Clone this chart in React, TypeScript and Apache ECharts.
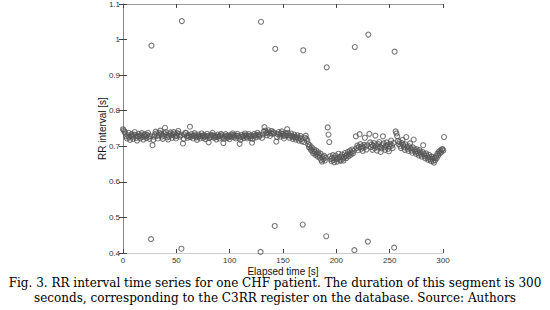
import React, { useEffect, useRef } from "react";
import * as echarts from "echarts";

// RR intervals (s), in beat order; elapsed time is the running sum of the intervals.
const segA = [0.748, 0.745, 0.741, 0.736, 0.728, 0.722, 0.731, 0.738, 0.725, 0.718, 0.729, 0.734, 0.727, 0.721, 0.733, 0.740, 0.731, 0.724, 0.716, 0.728, 0.735, 0.729, 0.722, 0.731, 0.737, 0.726, 0.719, 0.730, 0.734, 0.728, 0.723, 0.732, 0.738, 0.727, 0.721, 0.729];
const ect1 = [0.439, 0.983];
const segB = [0.703, 0.718, 0.727, 0.733, 0.741, 0.736, 0.729, 0.722, 0.731, 0.738, 0.744, 0.735, 0.727, 0.721, 0.730, 0.736, 0.752, 0.740, 0.732, 0.725, 0.719, 0.728, 0.734, 0.739, 0.731, 0.724, 0.733, 0.740, 0.736, 0.728, 0.722, 0.730, 0.737, 0.743, 0.734, 0.727, 0.731];
const ect2 = [0.412, 1.052];
const segC = [0.708, 0.721, 0.733, 0.738, 0.738, 0.729, 0.724, 0.731, 0.727, 0.755,
  0.726, 0.734, 0.729, 0.722, 0.730, 0.737, 0.731, 0.725, 0.718, 0.727,
  0.733, 0.728, 0.722, 0.729, 0.736, 0.730, 0.724, 0.731, 0.727, 0.720,
  0.728, 0.735, 0.729, 0.711, 0.723, 0.730, 0.726, 0.732, 0.738, 0.729,
  0.724, 0.730, 0.726, 0.719, 0.727, 0.733, 0.728, 0.722, 0.729, 0.735,
  0.731, 0.725, 0.709, 0.721, 0.728, 0.734, 0.729, 0.723, 0.730, 0.726,
  0.720, 0.727, 0.733, 0.728, 0.736, 0.731, 0.725, 0.729, 0.722, 0.730,
  0.735, 0.729, 0.724, 0.707, 0.718, 0.726, 0.732, 0.728, 0.723, 0.730,
  0.736, 0.731, 0.726, 0.722, 0.729, 0.734, 0.728, 0.723, 0.730, 0.710,
  0.721, 0.729, 0.735, 0.730, 0.725, 0.732, 0.738, 0.733, 0.727, 0.731];
const ect3 = [0.403, 1.050];
const segD = [0.724, 0.733, 0.741, 0.754, 0.744, 0.737, 0.731, 0.739, 0.745, 0.736, 0.729, 0.738, 0.743, 0.735, 0.740, 0.737];
const ect4 = [0.476, 0.974];
const segE = [0.713, 0.726, 0.734, 0.740, 0.733, 0.727, 0.736, 0.742, 0.735, 0.729,
  0.722, 0.731, 0.737, 0.730, 0.748, 0.738, 0.731, 0.724, 0.730, 0.736,
  0.728, 0.721, 0.727, 0.733, 0.725, 0.719, 0.726, 0.731, 0.722, 0.716,
  0.724, 0.729, 0.720, 0.714];
const ect5 = [0.480, 0.970];
const segF = [0.712, 0.724, 0.730, 0.721, 0.715, 0.706, 0.698, 0.703, 0.694, 0.689,
  0.697, 0.686, 0.680, 0.691, 0.684, 0.676, 0.688, 0.679, 0.671, 0.683,
  0.675, 0.668, 0.679, 0.662, 0.657, 0.670, 0.664, 0.673, 0.660, 0.668];
const ect6 = [0.447, 0.922, 0.753, 0.733, 0.712];
const segG = [0.672, 0.664, 0.658, 0.667, 0.675, 0.661, 0.655, 0.668, 0.674, 0.663,
  0.657, 0.666, 0.679, 0.670, 0.662, 0.659, 0.671, 0.677, 0.665, 0.660,
  0.669, 0.681, 0.673, 0.667, 0.676, 0.684, 0.672, 0.679, 0.688, 0.676,
  0.683, 0.691, 0.680, 0.687];
const ect7 = [0.408, 0.979];
const segH = [0.728, 0.695, 0.702, 0.689, 0.698, 0.734, 0.706, 0.693, 0.700, 0.687, 0.696, 0.704, 0.724, 0.699, 0.691, 0.703];
const ect8 = [0.432, 1.014];
const segI = [0.735, 0.711, 0.698, 0.705, 0.690, 0.701, 0.709, 0.695, 0.730, 0.703,
  0.688, 0.697, 0.706, 0.712, 0.699, 0.684, 0.694, 0.703, 0.728, 0.708,
  0.697, 0.690, 0.701, 0.711, 0.704, 0.693, 0.686, 0.699, 0.707, 0.716,
  0.702, 0.695, 0.709];
const ect9 = [0.415, 0.966];
const segJ = [0.742, 0.736, 0.728, 0.715, 0.706, 0.712, 0.701, 0.695, 0.709, 0.718,
  0.703, 0.697, 0.690, 0.705, 0.726, 0.699, 0.693, 0.687, 0.700, 0.708,
  0.694, 0.688, 0.682, 0.697, 0.719, 0.691, 0.685, 0.679, 0.692, 0.686,
  0.680, 0.674, 0.689, 0.683, 0.677, 0.671, 0.684, 0.703, 0.678, 0.672,
  0.666, 0.680, 0.674, 0.668, 0.662, 0.676, 0.669, 0.663, 0.658, 0.671,
  0.665, 0.659, 0.654, 0.668, 0.661, 0.672, 0.667, 0.679, 0.674, 0.685,
  0.680, 0.688, 0.683, 0.691, 0.692, 0.688, 0.726];

const rrSeries = [
  ...segA, ...ect1, ...segB, ...ect2, ...segC, ...ect3, ...segD, ...ect4,
  ...segE, ...ect5, ...segF, ...ect6, ...segG, ...ect7, ...segH, ...ect8,
  ...segI, ...ect9, ...segJ,
];

const xTicks = [0, 50, 100, 150, 200, 250, 300];
const yTicks = [0.4, 0.5, 0.6, 0.7, 0.8, 0.9, 1, 1.1];
const captionLines = [
  "Fig. 3. RR interval time series for one CHF patient. The duration of this segment is 300",
  "seconds, corresponding to the C3RR register on the database. Source: Authors",
];

export default function App() {
  const ref = useRef<HTMLDivElement>(null);
  useEffect(() => {
    if (!ref.current) return;
    const chart = echarts.init(ref.current, undefined, { renderer: "svg" });
    let t = 0;
    const points = rrSeries.map((rr) => {
      const p = [t, rr];
      t += rr;
      return p;
    });
    const tickColor = "#444";
    const labelStyle = { color: "#333", fontSize: 8, fontFamily: "Liberation Sans", margin: 3 };
    chart.setOption({
      animation: false,
      backgroundColor: "#fff",
      grid: { left: 123, right: 107, top: 3, bottom: 57 },
      xAxis: [
        {
          type: "value", min: 0, max: 300, interval: 50,
          name: "Elapsed time [s]", nameLocation: "middle", nameGap: 13,
          nameMoveOverlap: false,
          nameTextStyle: { color: "#111", fontSize: 10, fontFamily: "Liberation Sans" },
          axisLine: { show: true, lineStyle: { color: "#ccc", width: 1 } },
          axisTick: { show: true, inside: true, length: 4, lineStyle: { color: tickColor } },
          axisLabel: { ...labelStyle, formatter: (v: number) => (xTicks.includes(v) ? String(v) : "") },
          splitLine: { show: false },
        },
        {
          type: "value", min: 0, max: 300, interval: 50, position: "top",
          axisLine: { show: true, lineStyle: { color: "#999", width: 1 } },
          axisTick: { show: true, inside: true, length: 4, lineStyle: { color: tickColor } },
          axisLabel: { show: false },
          splitLine: { show: false },
        },
      ],
      yAxis: [
        {
          type: "value", min: 0.4, max: 1.1, interval: 0.1,
          name: "RR interval [s]", nameLocation: "middle", nameGap: 16,
          nameMoveOverlap: false,
          nameTextStyle: { color: "#111", fontSize: 10, fontFamily: "Liberation Sans" },
          axisLine: { show: true, lineStyle: { color: "#ccc", width: 1 } },
          axisTick: { show: true, inside: true, length: 4, lineStyle: { color: tickColor } },
          axisLabel: {
            ...labelStyle,
            formatter: (v: number) => {
              const r = Math.round(v * 10) / 10;
              return yTicks.includes(r) ? String(r) : "";
            },
          },
          splitLine: { show: false },
        },
        {
          type: "value", min: 0.4, max: 1.1, interval: 0.1, position: "right",
          axisLine: { show: true, lineStyle: { color: "#888", width: 1 } },
          axisTick: { show: true, inside: true, length: 4, lineStyle: { color: tickColor } },
          axisLabel: { show: false },
          splitLine: { show: false },
        },
      ],
      series: [
        {
          type: "scatter",
          data: points,
          symbol: "circle",
          symbolSize: 5,
          clip: false,
          itemStyle: { color: "rgba(0,0,0,0)", borderColor: "#555", borderWidth: 1.1 },
        },
      ],
      graphic: captionLines.map((line, i) => ({
        type: "text",
        left: "center",
        top: 277 + i * 15,
        style: { text: line, font: "12px 'DejaVu Serif'", fill: "#000" },
      })),
    });
    return () => chart.dispose();
  }, []);
  return <div ref={ref} style={{ width: 550, height: 310, position: "absolute", left: 0, top: 0 }} />;
}
